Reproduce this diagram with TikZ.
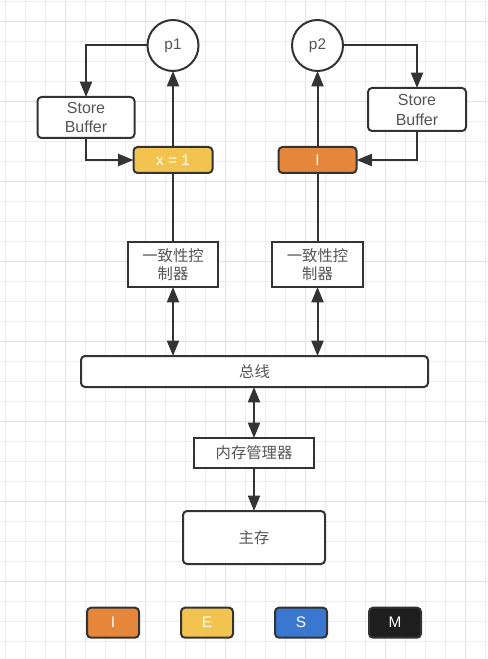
\documentclass[tikz,border=0pt]{standalone}
\usepackage{fontspec}
\setmainfont{Liberation Sans}
\newfontfamily\cjk{Noto Sans CJK SC}
\usetikzlibrary{arrows.meta}
\definecolor{stroke}{HTML}{333333}
\definecolor{txt}{HTML}{555555}
\definecolor{gminor}{HTML}{EDEDED}
\definecolor{gmajor}{HTML}{E2E2E2}
\definecolor{cI}{HTML}{E6863A}
\definecolor{cE}{HTML}{F2C44F}
\definecolor{cS}{HTML}{3A77D0}
\definecolor{cM}{HTML}{1E1E1E}
\tikzset{
  base/.style={draw=stroke, line width=1.5pt, fill=white, inner sep=0pt, outer sep=0pt, text=txt, font=\fontsize{11.5}{13.5}\selectfont, align=center},
  rbox/.style={base, rounded corners=3pt},
  sbox/.style={base},
  proc/.style={base, circle, font=\fontsize{11.5}{13}\selectfont},
  legend/.style={base, rounded corners=3pt, minimum width=39pt, minimum height=22.5pt, text=white},
  conn/.style={draw=stroke, line width=1.5pt},
  arr/.style={conn, -{Triangle[length=11.5pt,width=9pt]}},
  darr/.style={conn, {Triangle[length=11.5pt,width=9pt]}-{Triangle[length=11.5pt,width=9pt]}},
}
\begin{document}
\begin{tikzpicture}[x=0.75pt,y=-0.75pt]
\useasboundingbox (0,0) rectangle (487,659);
\fill[white] (0,0) rectangle (487,659);
% grid
\foreach \k in {0,...,24}{
  \pgfmathtruncatemacro\m{mod(\k,4)}
  \ifnum\m=3 \draw[gmajor,line width=0.6pt] (5+20*\k,0) -- (5+20*\k,659);
  \else \draw[gminor,line width=0.6pt] (5+20*\k,0) -- (5+20*\k,659); \fi
}
\foreach \k in {0,...,32}{
  \pgfmathtruncatemacro\m{mod(\k,4)}
  \ifnum\m=1 \draw[gmajor,line width=0.6pt] (0,1.7+20*\k) -- (487,1.7+20*\k);
  \else \draw[gminor,line width=0.6pt] (0,1.7+20*\k) -- (487,1.7+20*\k); \fi
}
% nodes
\node[proc, minimum size=38.25pt] (p1) at (173,45.5) {p1};
\node[proc, minimum size=38.25pt] (p2) at (317.5,45.5) {p2};
\node[rbox, minimum width=72.75pt, minimum height=30.75pt, font=\fontsize{12}{14}\selectfont] (sb1) at (86,117.5) {Store\\Buffer};
\node[rbox, minimum width=73.5pt, minimum height=32.25pt, font=\fontsize{12}{15}\selectfont] (sb2) at (417,109.5) {Store\\Buffer};
\node[rbox, fill=cE, text=white, minimum width=59.25pt, minimum height=19.5pt] (x1) at (173,160) {x = 1};
\node[rbox, fill=cI, text=white, minimum width=58.5pt, minimum height=19.5pt] (s2) at (317.5,160) {I};
\node[sbox, minimum width=67.5pt, minimum height=33.75pt, font=\cjk\fontsize{11.5}{14}\selectfont] (c1) at (173,264.5) {一致性控\\制器};
\node[sbox, minimum width=68.25pt, minimum height=33.75pt, font=\cjk\fontsize{11.5}{14}\selectfont] (c2) at (317.5,264.5) {一致性控\\制器};
\node[rbox, minimum width=260.25pt, minimum height=23.25pt, font=\cjk\fontsize{11.5}{13}\selectfont] (bus) at (254.5,371.5) {总线};
\node[sbox, minimum width=90pt, minimum height=22.5pt, font=\cjk\fontsize{11.5}{13}\selectfont] (mm) at (254,453) {内存管理器};
\node[rbox, minimum width=106.5pt, minimum height=39.75pt, font=\cjk\fontsize{11.5}{13}\selectfont] (mem) at (254,537.5) {主存};
\node[legend, fill=cI] (lI) at (113,622.7) {I};
\node[legend, fill=cE] (lE) at (207,622.7) {E};
\node[legend, fill=cS] (lS) at (301,622.7) {S};
\node[legend, fill=cM] (lM) at (395,622.7) {M};
% connectors
\draw[arr] (p1.west) -| (sb1.north);
\draw[arr] (sb1.south) |- (x1.west);
\draw[arr] (x1.north) -- (p1.south);
\draw[conn] (x1.south) -- (c1.north);
\draw[arr] (p2.east) -| (sb2.north);
\draw[arr] (sb2.south) |- (s2.east);
\draw[arr] (s2.north) -- (p2.south);
\draw[conn] (s2.south) -- (c2.north);
\draw[darr] (c1.south) -- (c1.south |- bus.north);
\draw[darr] (c2.south) -- (c2.south |- bus.north);
\draw[darr] (mm.north) -- (mm.north |- bus.south);
\draw[arr] (mm.south) -- (mem.north);
\end{tikzpicture}
\end{document}
